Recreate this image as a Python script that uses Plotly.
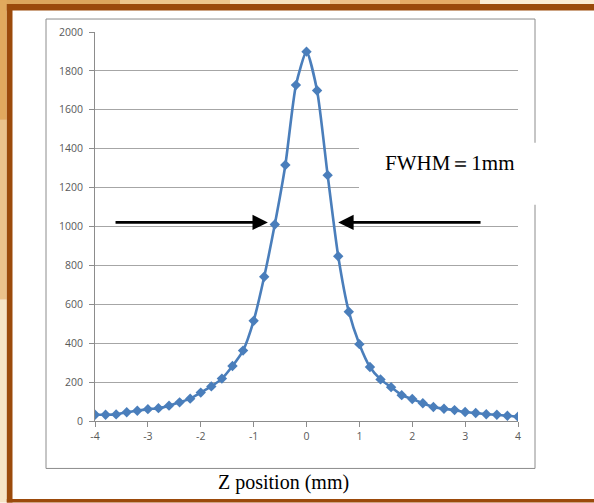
import plotly.graph_objects as go

# ---------------- data ----------------
z_mm = [-4.0, -3.8, -3.6, -3.4, -3.2, -3.0, -2.8, -2.6, -2.4, -2.2, -2.0,
        -1.8, -1.6, -1.4, -1.2, -1.0, -0.8, -0.6, -0.4, -0.2, 0.0,
        0.2, 0.4, 0.6, 0.8, 1.0, 1.2, 1.4, 1.6, 1.8, 2.0,
        2.2, 2.4, 2.6, 2.8, 3.0, 3.2, 3.4, 3.6, 3.8, 4.0]
signal = [32, 32, 34, 45, 53, 61, 66, 79, 96, 115, 146,
          178, 218, 283, 362, 515, 742, 1010, 1316, 1727, 1899,
          1699, 1264, 847, 562, 395, 278, 214, 174, 133, 113,
          91, 72, 63, 56, 46, 41, 35, 32, 27, 22]
x_ticks = [-4, -3, -2, -1, 0, 1, 2, 3, 4]
y_ticks = [0, 200, 400, 600, 800, 1000, 1200, 1400, 1600, 1800, 2000]
fwhm_text = "FWHM＝1mm"
x_title = "Z position (mm)"

# ---------------- geometry ----------------
W, H = 594, 503
L, R, T, B = 95, 76, 32, 81.5
PW, PH = W - L - R, H - T - B


def px(xp):
    return (xp - L) / PW


def py(yp):
    return (H - B - yp) / PH


fig = go.Figure()
fig.add_trace(go.Scatter(
    x=z_mm, y=signal, mode="lines+markers",
    line=dict(color="#4A7EBB", width=2.6, shape="spline", smoothing=0.6),
    marker=dict(symbol="diamond", size=8, color="#4A7EBB"),
    showlegend=False, hoverinfo="x+y"))

shapes = []
# outer decorative background strips
strip_top = [(0, 120, "#DDA65C"), (120, 230, "#EDC58C"), (230, 330, "#F6E2BE"),
             (330, 400, "#EEC088"), (400, 480, "#E6AC66"), (480, 594, "#FBEBD3")]
for a, b, c in strip_top:
    shapes.append(dict(type="rect", xref="paper", yref="paper", x0=px(a), x1=px(b),
                       y0=py(4), y1=py(0), fillcolor=c, line_width=0, layer="below"))
strip_left = [(0, 120, "#E1A95E"), (120, 300, "#EBC28C"), (300, 503, "#F6E4C6")]
for a, b, c in strip_left:
    shapes.append(dict(type="rect", xref="paper", yref="paper", x0=px(0), x1=px(6.8),
                       y0=py(b), y1=py(a), fillcolor=c, line_width=0, layer="below"))
brown = "#9B4A0B"
shapes += [
    dict(type="rect", xref="paper", yref="paper", x0=px(6.8), x1=px(W), y0=py(10.5), y1=py(4),
         fillcolor=brown, line_width=0, layer="below"),
    dict(type="rect", xref="paper", yref="paper", x0=px(6.8), x1=px(12.5), y0=py(H), y1=py(4),
         fillcolor=brown, line_width=0, layer="below"),
    dict(type="rect", xref="paper", yref="paper", x0=px(6.8), x1=px(W), y0=py(H), y1=py(499.5),
         fillcolor=brown, line_width=0, layer="below"),
    # chart frame
    dict(type="rect", xref="paper", yref="paper", x0=px(46), x1=px(535), y0=py(469), y1=py(19),
         line=dict(color="#8C8C8C", width=1), fillcolor="rgba(0,0,0,0)", layer="above"),
    # white label box
    dict(type="rect", xref="paper", yref="paper", x0=px(359), x1=px(552), y0=py(205), y1=py(143),
         fillcolor="white", line_width=0, layer="above"),
]

annotations = [
    dict(xref="paper", yref="paper", x=px(450), y=py(163), text=fwhm_text, showarrow=False,
         font=dict(family="Liberation Serif", size=21, color="black"),
         xanchor="center", yanchor="middle"),
    dict(xref="paper", yref="paper", x=px(283), y=py(483), text=x_title, showarrow=False,
         font=dict(family="Liberation Serif", size=20, color="black"),
         xanchor="center", yanchor="middle"),
    dict(x=-0.73, y=1021, ax=-3.64, ay=1021, xref="x", yref="y", axref="x", ayref="y",
         text="", showarrow=True, arrowhead=2, arrowsize=1.1, arrowwidth=2.8, arrowcolor="black"),
    dict(x=0.60, y=1021, ax=3.32, ay=1021, xref="x", yref="y", axref="x", ayref="y",
         text="", showarrow=True, arrowhead=2, arrowsize=1.1, arrowwidth=2.8, arrowcolor="black"),
]

tick_font = dict(family="Open Sans", size=10.5, color="#595959")
fig.update_layout(
    width=W, height=H, autosize=False,
    margin=dict(l=L, r=R, t=T, b=B, pad=0),
    paper_bgcolor="white", plot_bgcolor="white",
    shapes=shapes, annotations=annotations,
    xaxis=dict(range=[-4, 4], tickvals=x_ticks, ticktext=[str(v) for v in x_ticks],
               showgrid=False, zeroline=False, showline=True, linecolor="#8C8C8C", linewidth=1,
               ticks="outside", ticklen=5, tickcolor="#8C8C8C", tickfont=tick_font),
    yaxis=dict(range=[0, 2000], tickvals=y_ticks, showgrid=True, gridcolor="#A6A6A6", gridwidth=1,
               zeroline=False, showline=True, linecolor="#8C8C8C", linewidth=1,
               ticks="outside", ticklen=5, tickcolor="#8C8C8C", tickfont=tick_font,
               ticklabelstandoff=4),
)

fig.write_html("out.html", config={"displayModeBar": False},
               post_script="document.body.style.margin='0';")
